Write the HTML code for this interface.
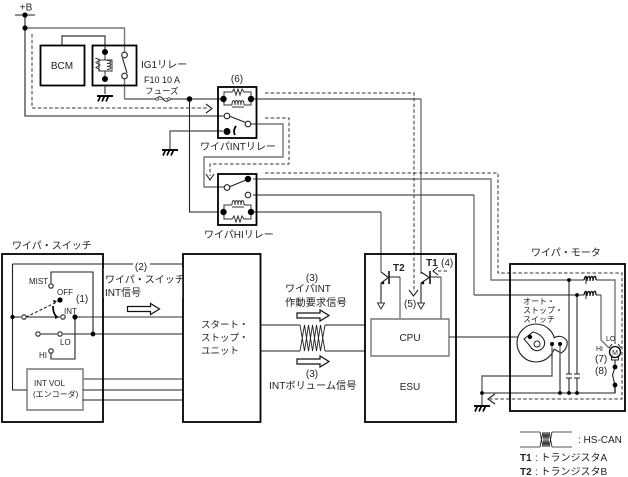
<!DOCTYPE html>
<html><head><meta charset="utf-8"><style>
html,body{margin:0;padding:0;background:#fff;width:628px;height:477px;overflow:hidden}
svg{display:block}
text{font-family:"Liberation Sans","Noto Sans CJK JP",sans-serif;font-size:10px;fill:#222}
.s{font-size:8px}.b{font-weight:bold}
</style></head><body>
<svg width="628" height="477" viewBox="0 0 628 477" xmlns="http://www.w3.org/2000/svg">
<defs>
<g id="gnd" fill="none" stroke="#000"><path d="M-8 0H8" stroke-width="1.900"/><path d="M-4.500 0L-7 5.500M-.5 0L-3 5.500M3.500 0L1 5.500" stroke-width="1.700"/></g>
<path id="tri" d="M-3.500 0H3.500L0 6Z" fill="#fff" stroke="#333"/>
<path id="harrow" d="M0 -2.500H23V-5.500L32 0L23 5.500V2.500H0Z" fill="#fff" stroke="#111" stroke-width="1.200"/>
<path id="coil" d="M-6 0C-5 -5 -3 -5 -3 1M-3 0C-2 -5 0 -5 0 1M0 0C1 -5 3 -5 3 1M3 0C4 -5 6 -5 6 0" fill="none" stroke="#111" stroke-width="1.300"/>
</defs>

<!-- grey wires -->
<g fill="none" stroke="#777" stroke-width="1.400">
<path d="M249 124H283V157H204V187H226"/>
<path d="M253 179H491V280H615V344"/>
<path d="M421 99V274"/>
<path d="M381 212V272"/>
<path d="M474 195V295"/>
<path d="M75 317H182"/>
<path d="M83 379H182"/>
<path d="M27 369H83V410H27Z"/>
<path d="M371 319H449V356H371Z"/>
<path d="M400 277V319M441 277V319"/>
<path d="M601 295V340L609 348"/>
<path d="M25 28H124.500V52M124.500 79V99"/>
<path d="M62 45V36H105V50" stroke="#555"/>
<path d="M105 85V94" stroke="#555"/>
<path d="M170 149V131H223" stroke="#666"/>
<path d="M552 344V376H482V405" stroke="#666"/>
<path d="M569 280V374M569 378V393M577 295V374M577 378V393" stroke="#555"/>
<path d="M615 385V393" stroke="#555"/>
</g>

<!-- dark wires -->
<g fill="none" stroke="#222" stroke-width="1.100">
<path d="M15 15H35M25 15V116H226"/>
<path d="M124.500 99H223M189.500 99V212H218"/>
<path d="M253 99H421"/>
<path d="M253 195H474"/>
<path d="M253 212H381"/>
<path d="M474 295H584M596 295H601"/>
<path d="M12.500 264H133M150 264H182M12.500 264V390H27M83 390H182M83 400H182"/>
<path d="M12.500 317H21M27 317H60M41 334H57M63 334H182"/>
<path d="M51 283V272H93V334"/>
<path d="M51 353V359H75V317"/>
<path d="M449 337H528"/>
<path d="M261 325H300M325 325H365M261 351H300M325 351H365"/>
<path stroke-width=".9" d="M300 325L304.500 351L308.500 325L312.500 351L316.500 325L320.500 351L325 325M300 351L304.500 325L308.500 351L312.500 325L316.500 351L320.500 325L325 351"/>
<path d="M381 272L389 278M381 283L389 277M389 277H400M381 283V303"/>
<path d="M421 272L430 278M421 283L430 277M430 277H441M421 283V303"/>
<path stroke-width="1.700" d="M389 271V284M430 271V284"/>
<path d="M560 344V393M482 393H615V385M615 367L612.500 375L615 385M615 358V367"/>
<path d="M520 432H540M552 432H572M520 447H540M552 447H572" stroke="#555"/>
<path stroke-width=".9" d="M540 432L543 447L545 432L547 447L549 432L552 447M540 447L543 432L545 447L547 432L549 447L552 432"/>
<path d="M122.500 58L127 73"/>
<path d="M229 116L247 123M229 187L246 180"/>
<path d="M26 317L59 301" stroke-dasharray="3 2"/>
<path d="M566 374H572M566 378H572M574 374H580M574 378H580"/>
</g>

<!-- dashed wires -->
<g fill="none" stroke="#333" stroke-width="1" stroke-dasharray="3.500 2.200">
<path d="M32 34V108H208"/>
<path d="M265 93H414V292"/>
<path d="M265 118H289V164H210V176"/>
<path d="M265 173H498V273H622V399H490"/>
<path d="M447 271H436"/>
</g>
<g fill="none" stroke="#222" stroke-width="1.100">
<path d="M206 104L212 108.500L206 113"/>
<path d="M206 174L210 180L214 174"/>
<path d="M409 290L413.500 296L418 290"/>
<path d="M438 267L433 271L438 275"/>
<path d="M495 394L488 399L495 404" stroke-width="1.200"/>
</g>

<!-- boxes -->
<g fill="none" stroke="#000" stroke-width="1.800">
<rect x="40.500" y="45.500" width="44" height="40"/>
<rect x="92.500" y="45.500" width="44" height="40"/>
<rect x="218" y="87" width="38.500" height="51"/>
<rect x="218" y="174" width="38.500" height="51"/>
<rect x="2" y="254" width="101" height="168"/>
<rect x="183" y="254" width="77.500" height="168"/>
<rect x="365" y="254" width="91" height="168"/>
<rect x="510" y="264" width="115" height="147"/>
</g>
<rect x="103.800" y="268" width="78.400" height="30" fill="#fff"/>

<!-- relay coils -->
<g fill="none" stroke="#333" stroke-width="1">
<path d="M105 52V60H99V71H105V79M105 60H112V71H105M95.500 58L100 60L96 62.500L100 65L96 67.500L100 70M107 60.500C112 60 112 63 107 63.500C112 63 112 66 107 66.500C112 66 112 69 107 69.500"/>
<path d="M224 99V92H232L234 89L236 95L238 89L240 95L242 89L244 92H251V99M224 99V105H232M244 105H251V99M232 105C232 99 235 99 235 105C235 99 238 99 238 105C238 99 241 99 241 105C241 99 244 99 244 105M232 107H244"/>
<path d="M224 212V205H232M244 205H251V212M232 205C232 199 235 199 235 205C235 199 238 199 238 205C238 199 241 199 241 205C241 199 244 199 244 205M232 207H244M224 212V219H232L234 216L236 222L238 216L240 222L242 216L244 219H251V212"/>
</g>
<path d="M236 126C233.500 130 233.500 132 235 135" fill="none" stroke="#000" stroke-width="1.800"/>

<!-- dots -->
<g fill="#000">
<circle cx="25" cy="15" r="2.600"/><circle cx="25" cy="28" r="2.600"/>
<circle cx="105" cy="52" r="3"/><circle cx="105" cy="79" r="3"/>
<circle cx="189.500" cy="99" r="2.800"/>
<circle cx="223.500" cy="99" r="3.200"/><circle cx="251" cy="99" r="3.200"/>
<circle cx="227" cy="131.500" r="3.500"/>
<circle cx="248" cy="179" r="3.200"/>
<circle cx="223.500" cy="212" r="3.200"/><circle cx="251" cy="212" r="3.200"/>
<circle cx="12.500" cy="317" r="2.200"/><circle cx="75" cy="317" r="2.600"/><circle cx="93" cy="334" r="2.400"/><circle cx="60" cy="300" r="2.600"/>
<circle cx="569" cy="280" r="1.900"/><circle cx="577" cy="295" r="1.900"/>
<circle cx="482" cy="393" r="1.900"/><circle cx="560" cy="393" r="1.900"/><circle cx="569" cy="393" r="1.900"/><circle cx="577" cy="393" r="1.900"/>
<circle cx="615" cy="367" r="2.400"/><circle cx="615" cy="385" r="2.400"/>
<circle cx="383" cy="283" r="1.300"/><circle cx="423" cy="283" r="1.300"/>
</g>
<!-- open circles -->
<g fill="#fff" stroke="#222" stroke-width="1.100">
<circle cx="124.500" cy="55" r="2.800"/><circle cx="124.500" cy="76" r="2.800"/>
<circle cx="227" cy="116" r="2.800"/><circle cx="248" cy="124" r="2.800"/>
<circle cx="227" cy="187.500" r="2.800"/><circle cx="248" cy="195" r="2.800"/>
<circle cx="24" cy="317" r="2.200"/><circle cx="63" cy="317" r="2.200"/>
<circle cx="51" cy="286" r="2.200"/><circle cx="51" cy="351" r="2.200"/>
<circle cx="38" cy="334" r="2.200"/><circle cx="60" cy="334" r="2.200"/>
</g>
<!-- switch arrow -->
<path d="M53 306C53 311 54 314 56 316" fill="none" stroke="#000" stroke-width="1.700"/>
<path d="M59 317l-4 -2.500v4.500z" fill="#000"/>
<path d="M57 301l-4 -1 1 3z" fill="#000"/>

<!-- fuse -->
<path d="M157 99C158 96 161 96 163 99C165 102 168 102 169 99" fill="#fff" stroke="#222"/>
<circle cx="157" cy="99" r="1.300" fill="#fff" stroke="#222" stroke-width=".7"/><circle cx="169" cy="99" r="1.300" fill="#fff" stroke="#222" stroke-width=".7"/>

<!-- grounds -->
<use href="#gnd" x="105" y="96"/>
<use href="#gnd" x="170" y="150"/>
<use href="#gnd" x="482" y="406"/>
<use href="#tri" x="381" y="303"/>
<use href="#tri" x="421" y="303"/>

<!-- hollow arrows -->
<use href="#harrow" x="127.500" y="309"/>
<use href="#harrow" x="297" y="315.500"/>
<use href="#harrow" x="297" y="361.500"/>

<!-- motor coils -->
<rect x="584" y="276" width="12" height="8" fill="#fff"/><rect x="584" y="291" width="12" height="8" fill="#fff"/>
<use href="#coil" x="590" y="280"/><use href="#coil" x="590" y="295"/>
<path d="M586 277V284M586 292V299" stroke="#222" fill="none"/>

<!-- auto stop switch -->
<circle cx="536" cy="343" r="19" fill="#fff" stroke="#222" stroke-width="1.100"/>
<path d="M554 338C558 335 564 336 567 341C568 346 565 351 561 353L554 349" fill="#fff" stroke="#222" stroke-width="1.100"/>
<path d="M553 338V349" stroke="#fff" stroke-width="2"/>
<path d="M524 339L533 332C538 333 542 336 544 340A7.500 7.500 0 1 1 530 346Z" fill="#fff" stroke="#222" stroke-width="1.100"/>
<circle cx="530" cy="337" r="2.200" fill="#000"/>
<circle cx="537" cy="344" r="3" fill="#fff" stroke="#222"/>
<path d="M552 344V358M560 344V358" stroke="#555" stroke-width="1.200"/>
<circle cx="552" cy="344" r="2" fill="#000"/><circle cx="560" cy="344" r="2" fill="#000"/>

<!-- motor -->
<path d="M609 348L612 344M621 348L618 344M615 358V361" stroke="#222" fill="none"/>
<rect x="611.500" y="357" width="7" height="3" fill="#fff" stroke="#222"/>
<circle cx="615" cy="352" r="5.500" fill="#fff" stroke="#000" stroke-width="1.300"/>
<text x="615" y="355" text-anchor="middle" style="font-size:7px">M</text>

<!-- labels -->
<text x="26" y="10.500" text-anchor="middle">+B</text>
<text x="62" y="69" text-anchor="middle">BCM</text>
<text x="141" y="68">IG1リレー</text>
<text x="144" y="83" style="font-size:9px">F10 10 A</text>
<text x="145" y="94" style="font-size:8.500px">フューズ</text>
<text x="237" y="82" text-anchor="middle">(6)</text>
<text x="200" y="150">ワイパINTリレー</text>
<text x="204" y="238">ワイパHIリレー</text>
<text x="12" y="249">ワイパ・スイッチ</text>
<text x="141" y="270" text-anchor="middle">(2)</text>
<text x="105" y="283">ワイパ・スイッチ</text>
<text x="105" y="296">INT信号</text>
<text x="29" y="284" class="s">MIST</text>
<text x="57" y="295" class="s">OFF</text>
<text x="76" y="302">(1)</text>
<text x="64" y="314" class="s">INT</text>
<text x="60" y="345" class="s">LO</text>
<text x="39" y="358" class="s">HI</text>
<text x="34" y="386" class="s">INT VOL</text>
<text x="33" y="397" class="s">(エンコーダ)</text>
<text x="201" y="328" style="font-size:9.500px">スタート・</text>
<text x="201" y="341" style="font-size:9.500px">ストップ・</text>
<text x="201" y="354" style="font-size:9.500px">ユニット</text>
<text x="312" y="281" text-anchor="middle">(3)</text>
<text x="285" y="292">ワイパINT</text>
<text x="285" y="306" style="font-size:10.300px">作動要求信号</text>
<text x="312" y="377" text-anchor="middle">(3)</text>
<text x="269" y="389" style="font-size:10.200px">INTボリューム信号</text>
<text x="393" y="271" class="b">T2</text>
<text x="426" y="266" class="b">T1</text>
<text x="441" y="266">(4)</text>
<text x="404" y="307">(5)</text>
<text x="410" y="341" text-anchor="middle">CPU</text>
<text x="410" y="390" text-anchor="middle">ESU</text>
<text x="531" y="256">ワイパ・モータ</text>
<text x="523" y="304" class="s">オート・</text>
<text x="523" y="313" class="s">ストップ・</text>
<text x="523" y="322" class="s">スイッチ</text>
<text x="606" y="341" style="font-size:7px">LO</text>
<text x="596" y="351" style="font-size:7px">HI</text>
<text x="595" y="362">(7)</text>
<text x="595" y="374">(8)</text>
<text x="578" y="443">: HS-CAN</text>
<text x="520" y="461" class="b">T1</text>
<text x="535" y="461">: トランジスタA</text>
<text x="520" y="475" class="b">T2</text>
<text x="535" y="475">: トランジスタB</text>
</svg>
</body></html>
